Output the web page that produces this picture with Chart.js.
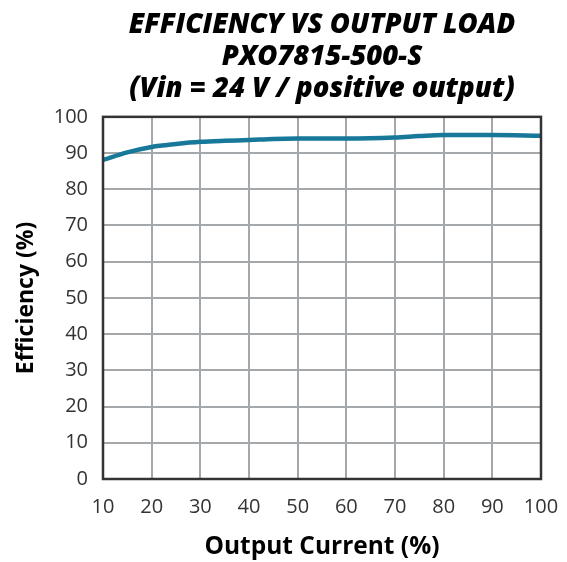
<!DOCTYPE html>
<html lang="en">
<head>
	<title>Efficiency vs Output Load</title>
	<script src="https://cdn.jsdelivr.net/npm/chart.js"></script>
	<style>
		html, body { margin: 0; padding: 0; background: #fff; }
		.chart-box { width: 567px; height: 562px; }
	</style>
</head>
<body>
<div class="chart-box">
	<canvas id="effChart"></canvas>
</div>

<script>
	const loadPct = [10, 15, 20, 25, 30, 35, 40, 45, 50, 60, 70, 75, 80, 90, 100];
	const efficiency = [88.1, 90.2, 91.7, 92.5, 93.1, 93.4, 93.6, 93.9, 94.0, 94.0, 94.3, 94.7, 95.0, 95.0, 94.8];
	const titleLines = ['EFFICIENCY VS OUTPUT LOAD', 'PXO7815-500-S', '(Vin = 24 V / positive output)'];

	// dark frame around the plot area
	const frame = {
		id: 'frame',
		afterDraw(chart) {
			const a = chart.chartArea;
			const ctx = chart.ctx;
			ctx.save();
			ctx.strokeStyle = '#333';
			ctx.lineWidth = 2.5;
			ctx.strokeRect(a.left, a.top, a.right - a.left, a.bottom - a.top);
			ctx.restore();
		}
	};

	const ctx = document.getElementById('effChart').getContext('2d');
	new Chart(ctx, {
		type: 'line',
		data: {
			datasets: [{
				data: loadPct.map((x, i) => ({ x: x, y: efficiency[i] })),
				borderColor: '#17789a',
				borderWidth: 4.5,
				pointRadius: 0,
				cubicInterpolationMode: 'monotone',
				fill: false
			}]
		},
		options: {
			responsive: true,
			maintainAspectRatio: false,
			animation: false,
			layout: { padding: { left: 8, right: 26, top: 0, bottom: 0 } },
			plugins: {
				legend: { display: false },
				tooltip: { enabled: false },
				title: {
					display: true,
					text: titleLines,
					fullSize: false,
					color: '#000',
					font: { family: 'Open Sans', size: 27.5, weight: 800, style: 'italic', lineHeight: 1.18 },
					padding: { top: 8.5, bottom: 11 }
				}
			},
			scales: {
				x: {
					type: 'linear',
					min: 10,
					max: 100,
					ticks: { stepSize: 10, color: '#333', font: { family: 'Open Sans', size: 20 }, padding: 16 },
					grid: { color: '#a5a8aa', lineWidth: 2, drawTicks: false },
					border: { display: false },
					title: { display: true, text: 'Output Current (%)', color: '#000', font: { family: 'Open Sans', size: 24.5, weight: 'bold' }, padding: { top: 13, bottom: 0 } },
					afterFit(s) {
						s.height = 83;
						s.paddingLeft = 0;
						s.paddingRight = 0;
					}
				},
				y: {
					min: 0,
					max: 100,
					ticks: { stepSize: 10, color: '#333', font: { family: 'Open Sans', size: 20 }, padding: 15 },
					grid: { color: '#a5a8aa', lineWidth: 2, drawTicks: false },
					border: { display: false },
					title: { display: true, text: 'Efficiency (%)', color: '#000', font: { family: 'Open Sans', size: 23, weight: 'bold' }, padding: { top: 5, bottom: 13 } },
					afterFit(s) {
						s.width = 95;
					}
				}
			}
		},
		plugins: [frame]
	});
</script>
</body>
</html>
